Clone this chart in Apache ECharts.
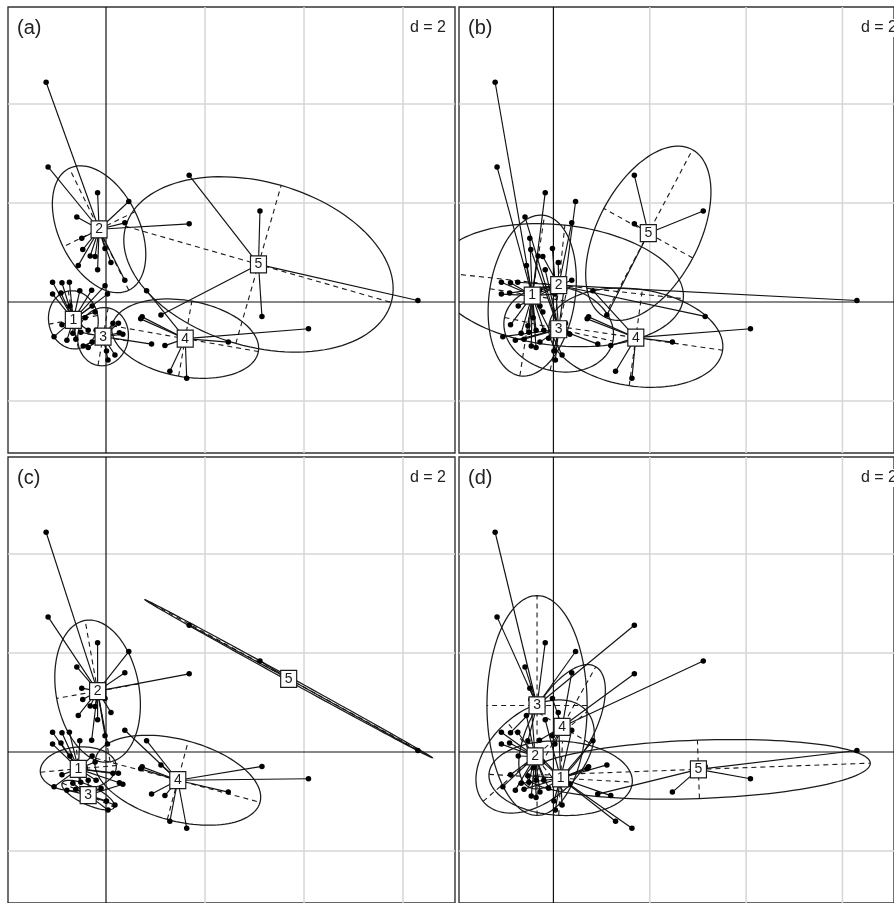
<!DOCTYPE html>
<html><head><meta charset="utf-8">
<script src="https://cdn.jsdelivr.net/npm/echarts@6/dist/echarts.min.js"></script>
<style>html,body{margin:0;padding:0;background:#fff}#c{width:894px;height:903px}</style>
</head><body><div id="c"></div>
<script>
// ---- data (same sample scores in all four panels; groupings differ) ----
const ptX = [-1.21,-1.17,-0.17,0.46,-0.59,0.38,1.68,-0.49,-0.47,-0.32,-0.22,-0.02,0.10,-0.56,-0.17,0.38,
  1.68,3.11,3.15,6.30,1.11,
  4.09,2.47,1.63,1.29,1.19,0.73,0.70,0.82,
  0.92,0.25,0.27,0.34,0.01,0.18,-0.36,-0.46,0.14,-0.10,-0.20,0.04,-0.51,-0.28,
  -1.08,-0.89,-0.74,-1.08,-0.91,-0.53,-0.29,-0.02,0.03,-1.05,-0.79,-0.67,-0.89,-0.53,-0.42,-0.73,-0.28,-0.36,-0.61,-0.22];
const ptY = [4.44,2.73,2.21,2.03,1.72,1.60,1.58,1.29,1.06,0.93,0.92,1.08,0.80,0.74,0.65,0.44,
  2.56,1.84,-0.29,0.03,-0.26,
  -0.54,-0.81,-1.54,-1.40,-0.88,-0.30,-0.34,0.23,
  -0.85,-0.43,-0.62,-0.65,-0.99,-1.07,-0.92,-0.89,-0.43,-0.73,-0.57,-1.17,-0.61,-0.81,
  0.40,0.39,0.40,0.16,0.18,0.23,0.24,0.33,0.16,-0.70,-0.77,-0.63,-0.46,-0.48,-0.32,-0.08,-0.08,-0.57,-0.75,-0.20];
const groupA = [2,2,2,2,2,2,2,2,2,2,2,2,2,2,2,2, 5,5,5,5,5, 4,4,4,4,4,4,4,4, 3,3,3,3,3,3,3,3,3,3,3,3,3,3, 1,1,1,1,1,1,1,1,1,1,1,1,1,1,1,1,1,1,1,1];
const groupB = [1,1,1,3,3,2,5,1,3,1,2,3,2,1,3,1, 5,5,2,2,5, 4,4,4,4,4,4,4,4, 3,3,3,3,3,1,1,1,3,3,1,3,1,3, 1,1,2,1,2,2,2,2,1,3,3,1,1,1,1,2,1,1,3,1];
const groupC = [2,2,2,2,2,2,2,2,2,2,2,2,2,2,2,4, 5,5,4,5,4, 4,4,4,4,4,4,4,4, 4,1,1,3,3,3,3,3,1,3,1,3,1,3, 1,1,1,1,1,1,2,2,2,1,3,3,1,1,1,1,1,3,3,1];
const groupD = [3,3,3,3,3,4,4,3,2,3,3,4,1,2,1,1, 3,4,5,5,1, 5,5,1,1,1,1,1,1, 5,1,1,1,1,1,2,2,1,2,2,1,2,2, 2,3,2,2,2,3,4,4,4,2,2,1,2,1,2,2,1,2,1,1];
// class centroids [x, y]
const centroidA = [[-0.66,-0.36],[-0.14,1.47],[-0.06,-0.70],[1.60,-0.74],[3.08,0.76]];
const centroidB = [[-0.44,0.13],[0.11,0.34],[0.11,-0.55],[1.71,-0.72],[1.97,1.39]];
const centroidC = [[-0.56,-0.34],[-0.17,1.23],[-0.36,-0.87],[1.45,-0.57],[3.69,1.48]];
const centroidD = [[0.15,-0.53],[-0.38,-0.09],[-0.34,0.94],[0.18,0.51],[3.01,-0.35]];
// ellipses [semi-axis 1, semi-axis 2, angle of axis 1 (deg)]
const ellipseA = [[0.59,0.50,100],[1.37,0.81,116],[0.59,0.51,80],[1.50,0.77,-10],[2.79,1.66,-16]];
const ellipseB = [[1.64,0.89,81],[2.60,1.22,-6],[1.15,0.85,-12],[1.82,0.98,-8],[1.92,1.05,61.5]];
const ellipseC = [[0.77,0.44,5],[1.45,0.84,100],[0.58,0.19,-25],[1.72,0.82,-15],[3.31,0.04,-28.8]];
const ellipseD = [[1.49,0.75,-3],[1.41,0.91,40],[2.22,1.04,90],[1.40,0.65,60],[3.57,0.59,2]];
const panelLabels = ['(a)','(b)','(c)','(d)'];
const gridLinesX = [2,4,6];
const gridLinesY = [-2,2,4];
const scaleText = 'd = 2';

// ---- layout ----
const panels = [
  {left:8, top:7, xMin:-1.98, xMax:7.05},
  {left:459, top:7, xMin:-1.96, xMax:7.07},
  {left:8, top:457, xMin:-1.98, xMax:7.05},
  {left:459, top:457, xMin:-1.96, xMax:7.07}
];
const PW = 447, PH = 446, Y_MIN = -3.05, Y_MAX = 5.96;
const groups = [groupA, groupB, groupC, groupD];
const cents = [centroidA, centroidB, centroidC, centroidD];
const ells = [ellipseA, ellipseB, ellipseC, ellipseD];

const grid = [], xAxis = [], yAxis = [], series = [], graphic = [];
const FONT = '"Liberation Sans", Arial, Helvetica, sans-serif';

panels.forEach((p, i) => {
  grid.push({left:p.left, top:p.top, width:PW, height:PH, show:true, borderColor:'#333', borderWidth:1.4, backgroundColor:'transparent'});
  xAxis.push({type:'value', gridIndex:i, min:p.xMin, max:p.xMax, show:false});
  yAxis.push({type:'value', gridIndex:i, min:Y_MIN, max:Y_MAX, show:false});

  // reference grid + origin axes
  const gl = gridLinesX.map(v => [0, v, 0]).concat(gridLinesY.map(v => [1, v, 0])).concat([[0,0,1],[1,0,1]]);
  series.push({
    type:'custom', xAxisIndex:i, yAxisIndex:i, silent:true, z:1, clip:true,
    data: gl,
    renderItem: (params, api) => {
      const t = api.value(0), v = api.value(1), ax = api.value(2);
      let a, b;
      if (t === 0) { a = api.coord([v, Y_MIN]); b = api.coord([v, Y_MAX]); }
      else { a = api.coord([p.xMin, v]); b = api.coord([p.xMax, v]); }
      return {type:'line', shape:{x1:a[0], y1:a[1], x2:b[0], y2:b[1]},
        style:{stroke: ax ? '#111' : '#d6d6d6', lineWidth: ax ? 1.2 : 1.5}};
    }
  });

  // ellipses with dashed axes
  const ed = cents[i].map((c, j) => [c[0], c[1], ells[i][j][0], ells[i][j][1], ells[i][j][2]]);
  series.push({
    type:'custom', xAxisIndex:i, yAxisIndex:i, silent:true, z:2, clip:true,
    data: ed,
    renderItem: (params, api) => {
      const cx = api.value(0), cy = api.value(1), A = api.value(2), B = api.value(3);
      const th = api.value(4) * Math.PI / 180;
      const ct = Math.cos(th), st = Math.sin(th);
      const pts = [];
      for (let k = 0; k < 120; k++) {
        const f = k / 120 * 2 * Math.PI;
        const x = cx + A * Math.cos(f) * ct - B * Math.sin(f) * st;
        const y = cy + A * Math.cos(f) * st + B * Math.sin(f) * ct;
        pts.push(api.coord([x, y]));
      }
      const m1 = api.coord([cx - A * ct, cy - A * st]), m2 = api.coord([cx + A * ct, cy + A * st]);
      const n1 = api.coord([cx + B * st, cy - B * ct]), n2 = api.coord([cx - B * st, cy + B * ct]);
      const ds = {stroke:'#1a1a1a', lineWidth:1.1, lineDash:[5,4], fill:null};
      return {type:'group', children:[
        {type:'polygon', shape:{points:pts}, style:{fill:null, stroke:'#1a1a1a', lineWidth:1.25}},
        {type:'line', shape:{x1:m1[0], y1:m1[1], x2:m2[0], y2:m2[1]}, style:ds},
        {type:'line', shape:{x1:n1[0], y1:n1[1], x2:n2[0], y2:n2[1]}, style:ds}
      ]};
    }
  });

  // star lines from samples to class centroid
  const sd = ptX.map((x, k) => {
    const c = cents[i][groups[i][k] - 1];
    return [x, ptY[k], c[0], c[1]];
  });
  series.push({
    type:'custom', xAxisIndex:i, yAxisIndex:i, silent:true, z:3, clip:true,
    data: sd,
    renderItem: (params, api) => {
      const a = api.coord([api.value(0), api.value(1)]);
      const b = api.coord([api.value(2), api.value(3)]);
      return {type:'line', shape:{x1:a[0], y1:a[1], x2:b[0], y2:b[1]}, style:{stroke:'#111', lineWidth:1.15}};
    }
  });

  // sample points
  series.push({
    type:'scatter', xAxisIndex:i, yAxisIndex:i, silent:true, z:4,
    symbol:'circle', symbolSize:5.5, itemStyle:{color:'#000', opacity:1},
    data: ptX.map((x, k) => [x, ptY[k]])
  });

  // centroid labels
  series.push({
    type:'scatter', xAxisIndex:i, yAxisIndex:i, silent:true, z:5,
    symbol:'rect', symbolSize:[16,17],
    itemStyle:{color:'#fff', borderColor:'#1a1a1a', borderWidth:1.2, opacity:1},
    label:{show:true, position:'inside', formatter: q => String(q.value[2]), color:'#1a1a1a', fontSize:14, fontFamily:FONT},
    data: cents[i].map((c, j) => [c[0], c[1], j + 1])
  });

  graphic.push({type:'text', left:p.left + 9, top:p.top + 11, z:10,
    style:{text:panelLabels[i], font:'20px ' + FONT, fill:'#222'}});
  graphic.push({type:'text', x:p.left + PW - 8, y:p.top + 21, z:10,
    style:{text:scaleText, font:'16px ' + FONT, fill:'#222', align:'right', verticalAlign:'middle',
      backgroundColor:'#fff', padding:[1,1]}});
});

const chart = echarts.init(document.getElementById('c'), null, {renderer:'canvas'});
chart.setOption({animation:false, backgroundColor:'#fff', grid, xAxis, yAxis, series, graphic});
</script></body></html>
